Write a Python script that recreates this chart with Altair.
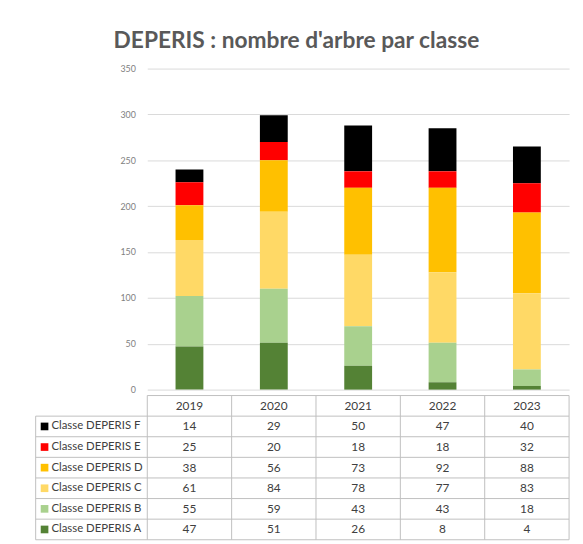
import altair as alt
import pandas as pd

years = ["2019", "2020", "2021", "2022", "2023"]
classes = ["Classe DEPERIS F", "Classe DEPERIS E", "Classe DEPERIS D",
           "Classe DEPERIS C", "Classe DEPERIS B", "Classe DEPERIS A"]
val_F = [14, 29, 50, 47, 40]
val_E = [25, 20, 18, 18, 32]
val_D = [38, 56, 73, 92, 88]
val_C = [61, 84, 78, 77, 83]
val_B = [55, 59, 43, 43, 18]
val_A = [47, 51, 26, 8, 4]
colors = ["#000000", "#ff0000", "#ffc000", "#ffd966", "#a9d18e", "#548235"]
y_ticks = [0, 50, 100, 150, 200, 250, 300, 350]
title_text = "DEPERIS : nombre d'arbre par classe"

series = [val_F, val_E, val_D, val_C, val_B, val_A]
rows = []
for ci, (c, vals) in enumerate(zip(classes, series)):
    for yr, v in zip(years, vals):
        rows.append({"classe": c, "year": yr, "value": v, "ord": len(classes) - 1 - ci})
df = pd.DataFrame(rows)

W = 427
H = 325
TH = 146
LABEL_W = 113
FONT = "Lato"
GRID = "#bfbfbf"

color_scale = alt.Scale(domain=classes, range=colors)
xbar = alt.Scale(domain=years, paddingInner=0.67, paddingOuter=0.335)

bars = alt.Chart(df).mark_bar().encode(
    x=alt.X("year:N", scale=xbar, axis=None),
    y=alt.Y("value:Q", stack="zero",
            scale=alt.Scale(domain=[0, 350], nice=False),
            axis=alt.Axis(values=y_ticks, title=None, domain=False, ticks=False,
                          labelColor="#7f7f7f", labelFontSize=9, labelFont=FONT,
                          gridColor="#d9d9d9", labelPadding=12)),
    color=alt.Color("classe:N", scale=color_scale, legend=None),
    order=alt.Order("ord:Q", sort="ascending"),
).properties(width=W, height=H)

# ---- data table below ----
row_domain = ["header"] + classes
tx = alt.Scale(domain=years, paddingInner=0, paddingOuter=0)
ty = alt.Scale(domain=row_domain, paddingInner=0, paddingOuter=0)

cells = alt.Chart(df).mark_text(fontSize=12, font=FONT, color="#404040").encode(
    x=alt.X("year:N", scale=tx, axis=None),
    y=alt.Y("classe:N", scale=ty, axis=None),
    text="value:Q",
)

hdr_df = pd.DataFrame({"year": years, "classe": ["header"] * len(years)})
header = alt.Chart(hdr_df).mark_text(fontSize=12, font=FONT, color="#404040").encode(
    x=alt.X("year:N", scale=tx, axis=None),
    y=alt.Y("classe:N", scale=ty, axis=None),
    text="year:N",
)

cls_df = pd.DataFrame({"classe": classes})
labels = alt.Chart(cls_df).mark_text(fontSize=11.5, font=FONT, color="#404040", align="left").encode(
    x=alt.value(-LABEL_W + 16),
    y=alt.Y("classe:N", scale=ty, axis=None),
    text="classe:N",
)
swatches = alt.Chart(cls_df).mark_square(size=60, opacity=1).encode(
    x=alt.value(-LABEL_W + 9),
    y=alt.Y("classe:N", scale=ty, axis=None),
    color=alt.Color("classe:N", scale=color_scale, legend=None),
)

hlines = alt.Chart(cls_df).mark_rule(color=GRID, strokeWidth=1).encode(
    y=alt.Y("classe:N", scale=ty, axis=None, bandPosition=0),
    x=alt.value(-LABEL_W), x2=alt.value(W),
)
bottom_line = alt.Chart(pd.DataFrame({"classe": [classes[-1]]})).mark_rule(color=GRID).encode(
    y=alt.Y("classe:N", scale=ty, axis=None, bandPosition=1),
    x=alt.value(-LABEL_W), x2=alt.value(W),
)
top_line = alt.Chart(pd.DataFrame({"classe": ["header"]})).mark_rule(color=GRID).encode(
    y=alt.Y("classe:N", scale=ty, axis=None, bandPosition=0),
    x=alt.value(0), x2=alt.value(W),
)
vlines = alt.Chart(hdr_df).mark_rule(color=GRID).encode(
    x=alt.X("year:N", scale=tx, axis=None, bandPosition=0),
    y=alt.value(0), y2=alt.value(TH),
)
right_line = alt.Chart(pd.DataFrame({"year": [years[-1]]})).mark_rule(color=GRID).encode(
    x=alt.X("year:N", scale=tx, axis=None, bandPosition=1),
    y=alt.value(0), y2=alt.value(TH),
)
left_line = alt.Chart(pd.DataFrame({"classe": [classes[0]]})).mark_rule(color=GRID).encode(
    y=alt.Y("classe:N", scale=ty, axis=None, bandPosition=0),
    y2=alt.value(TH),
    x=alt.value(-LABEL_W),
)

table = alt.layer(hlines, bottom_line, top_line, vlines, right_line, left_line,
                  swatches, labels, header, cells).properties(width=W, height=TH)

chart = alt.vconcat(bars, table, spacing=0).properties(
    title=alt.TitleParams(title_text, font=FONT, fontSize=23, fontWeight="bold",
                          color="#595959", anchor="middle", offset=12, dx=-6),
    padding={"left": 27, "top": 19, "right": 5, "bottom": 3},
).configure_view(stroke=None).resolve_scale(x="independent", y="independent", color="shared")

chart.save("out.html", embed_options={"renderer": "svg", "actions": False})
